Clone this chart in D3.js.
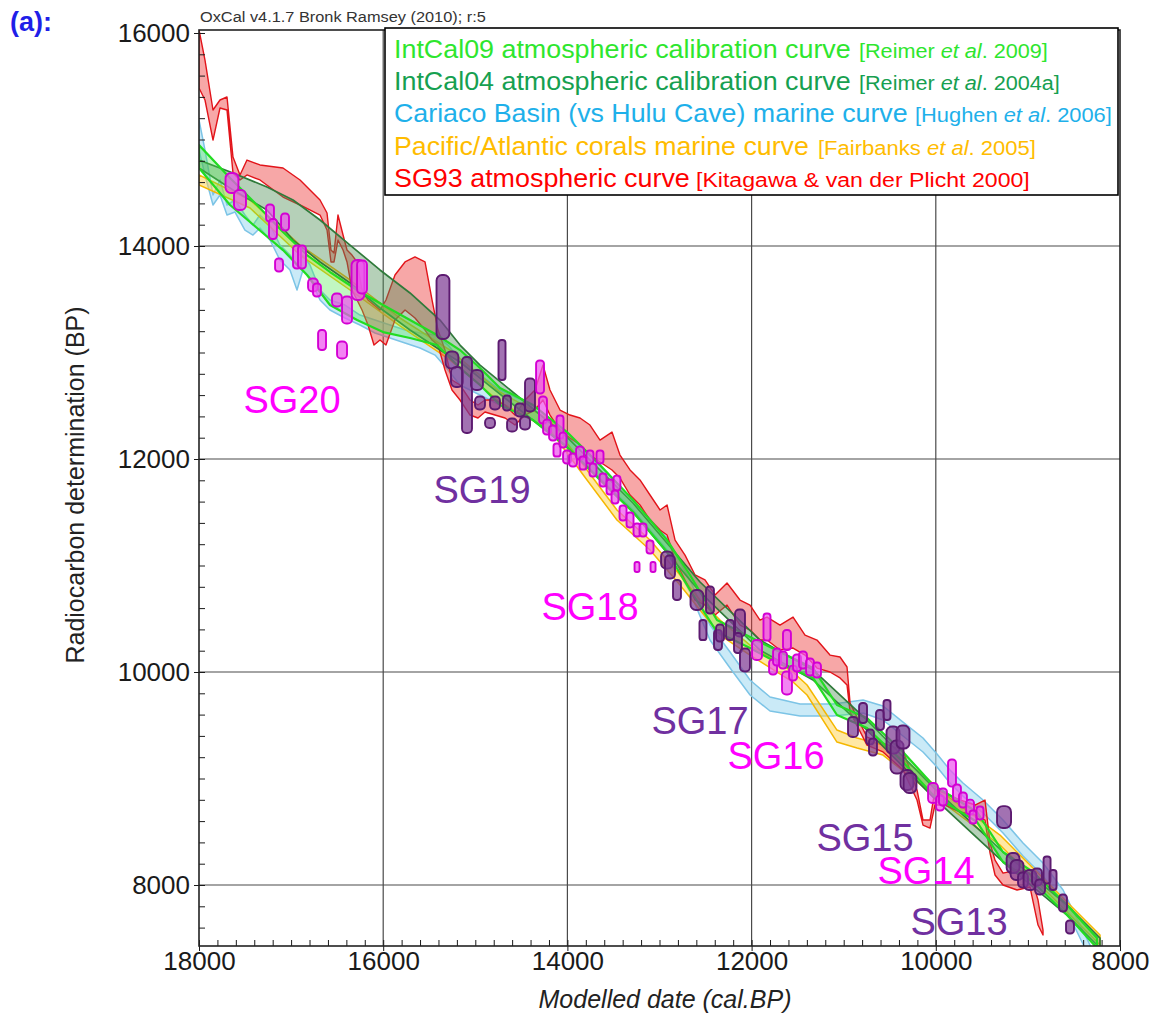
<!DOCTYPE html>
<html>
<head>
<meta charset="utf-8">
<script src="https://cdn.jsdelivr.net/npm/d3@7"></script>
<style>
  body { margin: 0; background: #fff; }
  svg text { font-family: "Liberation Sans", Arial, sans-serif; }
</style>
</head>
<body>
<svg id="chart" width="1159" height="1023"></svg>
<script>
// ---------------- calibration curves (cal BP, 14C BP upper / lower) ----------------
const sg93Dates = [18000,17935,17848,17772,17696,17631,17555,17479,17338,17088,16903,16686,16610,16567,16534,16491,16436,16393,16339,16284,16230,16165,16100,16035,15970,15872,15763,15655,15546,15470,15405,15329,15253,15166,15057,14971,14895,14786,14677,14569,14460,14352,14265,14189,14080,13972,13863,13755,13646,13516,13429,13320,13212,13103,12994,12918,12831,12723,12614,12506,12397,12267,12126,12017,11909,11833,11692,11550,11420,11290,11149,11040,10964,10931,10747,10573,10356,10204,10139,10063,10009,9900,9737,9574,9466,9411,9357,9270,9118,8977,8890,8836];
const sg93Upper = [16030,15746,15277,15371,15399,14836,14667,14807,14761,14732,14620,14432,14310,13962,13934,14291,14103,13962,13915,13850,13587,13493,13446,13399,13493,13728,13850,13897,13850,13493,13211,13023,12742,12695,12554,12507,12554,12554,12507,12413,12554,12648,12882,12648,12460,12413,12385,12319,12178,12253,12037,11897,11803,11662,11521,11568,11239,11098,10911,10864,10723,10836,10676,10629,10488,10516,10441,10516,10347,10300,10159,10141,10047,9709,9389,9333,9267,8892,8610,8610,8892,8864,8798,8751,8798,8394,8234,8112,8141,8112,7859,7577];
const sg93Lower = [15484,15371,14995,15296,15277,14685,14620,14667,14620,14460,14385,14291,14150,13850,13850,14056,13962,13850,13587,13493,13399,13258,13070,13117,13070,13305,13399,13324,13211,13117,13070,12836,12648,12554,12413,12385,12441,12413,12385,12319,12413,12460,12554,12413,12272,12197,12131,12037,11972,11897,11821,11662,11568,11427,11333,11286,11051,10864,10676,10629,10535,10629,10441,10394,10300,10300,10206,10225,10159,10037,10000,9944,9878,9624,9314,9249,9080,8798,8563,8535,8751,8751,8685,8657,8610,8300,8094,8000,7953,7981,7624,7530];

const intcal09Dates = [18000,17663,17370,17088,16827,16578,16284,16002,15709,15416,15166,14949,14732,14373,14004,13646,13288,12918,12669,12376,12017,11692,11333,11073,10747,10356,10030,9552,9270,8945,8575,8250];
const intcal09Upper = [14948,14638,14385,14131,13915,13756,13587,13446,13305,13164,13023,12854,12667,12507,12253,11944,11615,11239,10911,10488,10328,10188,10037,9690,9568,9249,8939,8685,8310,8122,7812,7502];
const intcal09Lower = [14732,14385,14169,13962,13728,13446,13305,13192,13136,13070,12854,12695,12507,12366,12113,11803,11502,11127,10770,10375,10225,10075,9944,9596,9474,9155,8845,8591,8216,8028,7718,7408];

const intcal04Dates = [18000,17631,17262,16979,16686,16360,16035,15709,15383,15166,14949,14515,14004,13288,12560,11909,11333,10747,10030,9270,8575,8217];
const intcal04Upper = [14807,14685,14554,14432,14244,14009,13775,13559,13305,13070,12882,12573,12206,11587,10845,10300,10019,9549,8920,8310,7812,7502];
const intcal04Lower = [14732,14526,14338,14056,13850,13653,13418,13211,13023,12911,12760,12460,12113,11502,10751,10206,9925,9455,8826,8216,7718,7408];

const cariacoDates = [18000,17935,17848,17772,17696,17609,17501,17414,17338,17229,17121,17012,16936,16871,16795,16686,16578,16415,16252,16089,15926,15763,15600,15437,15296,15166,14949,14732,14373,14004,13646,13288,12918,12669,12452,12234,12017,11800,11474,11116,10790,10573,10356,10139,9987,9846,9705,9487,9270,9053,8836,8618,8434,8325];
const cariacoUpper = [15183,14901,14479,14620,14385,14432,14291,14197,14291,14197,14009,13915,13822,13915,13822,13587,13493,13446,13352,13305,13258,13211,13183,13164,13070,12930,12789,12648,12507,12225,11934,11615,11258,10864,10441,10188,9925,9765,9699,9699,9737,9681,9530,9380,9230,9080,8958,8798,8610,8394,8206,7953,7624,7436];
const cariacoLower = [14901,14667,14385,14479,14291,14319,14150,14103,14169,14056,13868,13775,13587,13775,13700,13493,13399,13324,13258,13183,13136,13089,13042,12976,12836,12695,12601,12507,12366,12103,11821,11521,11145,10751,10300,10037,9784,9634,9587,9587,9615,9549,9399,9249,9108,8958,8835,8676,8488,8272,8084,7831,7502,7314];

const coralsDates = [18000,17446,16903,16360,15818,15275,14732,14189,13787,13462,13103,12777,12560,12343,12017,11550,11398,11073,10855,10573,10204,9846,9303,8760,8217];
const coralsUpper = [14667,14432,14009,13681,13324,13023,12629,12366,11897,11521,11239,10911,10676,10488,10253,10000,9878,9455,9380,9314,9080,8817,8469,8000,7530];
const coralsLower = [14573,14357,13915,13587,13249,12930,12535,12272,11803,11427,11145,10817,10582,10347,10159,9906,9784,9342,9286,9220,8967,8723,8375,7906,7436];

// ---------------- modelled dates: [cal BP, 14C BP, cal error, 14C error] ----------------
const sg20 = [[17642,14592,70,94],[17555,14432,65,94],[17229,14310,43,80],[17197,14160,43,94],[17066,14225,43,80],[17131,13822,43,61],[16936,13897,43,108],[16882,13897,43,108],[16762,13634,54,61],[16719,13587,43,61],[16664,13117,43,94],[16502,13493,54,61],[16447,13023,54,80],[16393,13399,54,127],[16274,13681,70,188],[16230,13709,54,155]];
const sg19 = [[15351,13427,70,300],[15253,12930,70,80],[15199,12770,65,94],[15090,12601,54,357],[14982,12742,65,94],[14949,12526,54,61],[14840,12338,54,47],[14786,12526,54,61],[14710,12930,38,188],[14656,12526,43,70],[14601,12319,54,61],[14515,12460,54,61],[14460,12338,54,61],[14406,12601,54,155]];
const sg18 = [[14297,12770,43,155],[14265,12460,43,127],[14221,12300,43,70],[14156,12244,43,70],[14113,12084,38,61],[14080,12300,38,108],[14048,12178,38,70],[14004,12019,43,61],[13939,11990,43,61],[13863,12056,43,61],[13831,11962,38,61],[13755,12019,38,61],[13722,11897,38,61],[13646,12019,38,61],[13613,11803,38,61],[13537,11737,38,70],[13462,11774,38,70],[13483,11643,38,61],[13396,11493,38,70],[13320,11427,38,70],[13244,11333,38,61],[13179,11333,38,61],[13103,11174,38,61],[13244,10986,27,47],[13070,10986,27,47]];
const sg17 = [[12918,11051,65,80],[12886,10986,54,108],[12810,10770,43,94],[12593,10676,70,94],[12452,10676,43,127],[12528,10394,38,94],[12365,10300,43,94],[12343,10366,43,80],[12234,10394,43,94],[12126,10460,54,127],[12148,10272,43,94],[12072,10113,54,108]];
const sg16 = [[11941,10206,54,94],[11833,10422,38,127],[11767,10047,43,70],[11724,10141,43,80],[11616,10300,43,94],[11659,10113,43,80],[11616,9897,54,108],[11550,9990,43,70],[11507,10084,43,80],[11442,10113,43,80],[11366,10047,43,80],[11290,10019,43,70]];
const sg15 = [[10899,9483,54,94],[10790,9615,43,94],[10714,9390,43,70],[10682,9296,43,80],[10606,9549,43,94],[10530,9643,38,94],[10465,9361,70,127],[10421,9202,70,155],[10356,9389,70,108],[10313,8986,70,94],[10280,8958,70,94],[9259,8638,76,103]];
const sg14 = [[10030,8864,54,94],[9954,8770,43,70],[9922,8826,43,80],[9824,9051,43,127],[9770,8864,43,80],[9705,8798,43,70],[9628,8732,43,70],[9596,8638,38,61],[9520,8676,38,61]];
const sg13 = [[9161,8206,70,94],[9118,8141,70,94],[9053,8047,54,70],[8977,8047,70,94],[8901,8075,54,80],[8868,7981,54,70],[8792,8141,38,127],[8727,8047,38,94],[8619,7831,43,80],[8543,7606,43,61]];

const groupNames = ["SG20","SG19","SG18","SG17","SG16","SG15","SG14","SG13"];
const groupLabelAt = [[16990,12554],[14927,11709],[13755,10610],[12560,9540],[11735,9211],[10769,8441],[10106,8131],[9748,7652]];

// ---------------- axes ----------------
const yMajorTicks = [8000,10000,12000,14000,16000];
const xMajorTicks = [18000,16000,14000,12000,10000,8000];

const legendMain = ["IntCal09 atmospheric calibration curve","IntCal04 atmospheric calibration curve","Cariaco Basin (vs Hulu Cave) marine curve","Pacific/Atlantic corals marine curve","SG93 atmospheric curve"];
const legendRefs = [["[Reimer ","et al",". 2009]"],["[Reimer ","et al",". 2004a]"],["[Hughen ","et al",". 2006]"],["[Fairbanks ","et al",". 2005]"],["[Kitagawa & van der Plicht 2000]","",""]];

// ---------------- drawing ----------------
const svg = d3.select("#chart");
const PL = 199, PR = 1120, PT = 30, PB = 946;
const x = d3.scaleLinear().domain([18000, 8000]).range([PL, PR]);
const y = d3.scaleLinear().domain([8000, 16000]).range([885, 33]);

svg.append("defs").append("clipPath").attr("id", "plotClip")
  .append("rect").attr("x", PL).attr("y", PT).attr("width", PR - PL).attr("height", PB - PT);

// grid
const grid = svg.append("g").attr("stroke", "#4a4a4a").attr("stroke-width", 1.2);
grid.selectAll("line.h").data([8000,10000,12000,14000]).join("line")
  .attr("x1", PL).attr("x2", PR).attr("y1", d => y(d)).attr("y2", d => y(d));
grid.selectAll("line.v").data([16000,14000,12000,10000]).join("line")
  .attr("y1", PT).attr("y2", PB).attr("x1", d => x(d)).attr("x2", d => x(d));

// curves
const curves = svg.append("g").attr("clip-path", "url(#plotClip)");
function band(dates, upper, lower, fill, fop, stroke, sw) {
  const rows = dates.map((d, i) => ({ d, u: upper[i], l: lower[i] }));
  const area = d3.area().x(r => x(r.d)).y0(r => y(r.l)).y1(r => y(r.u));
  curves.append("path").datum(rows).attr("d", area)
    .attr("fill", fill).attr("fill-opacity", fop)
    .attr("stroke", stroke).attr("stroke-width", sw).attr("stroke-linejoin", "round");
}
band(cariacoDates, cariacoUpper, cariacoLower, "#a6dcf2", 0.6, "#7cc4e6", 1.5);
band(coralsDates, coralsUpper, coralsLower, "#ffd24a", 0.5, "#f5b700", 1.5);
band(sg93Dates, sg93Upper, sg93Lower, "#ee3c3c", 0.45, "#e2141a", 1.4);
band(intcal04Dates, intcal04Upper, intcal04Lower, "#4f8f55", 0.42, "#2f7a3a", 1.7);
band(intcal09Dates, intcal09Upper, intcal09Lower, "#4ee84e", 0.35, "#22dc22", 2.2);

// modelled data boxes
const pts = svg.append("g").attr("clip-path", "url(#plotClip)");
const groups = [sg20, sg19, sg18, sg17, sg16, sg15, sg14, sg13];
const purple = { fill: "#7e3c94", stroke: "#5c1a70", text: "#7030a0" };
const magenta = { fill: "#ee55ee", stroke: "#d300d3", text: "#ff00ff" };
groups.forEach((rows, gi) => {
  const c = gi % 2 === 0 ? magenta : purple;
  pts.append("g").selectAll("rect").data(rows).join("rect")
    .attr("x", r => x(r[0] + r[2]))
    .attr("width", r => x(r[0] - r[2]) - x(r[0] + r[2]))
    .attr("y", r => y(r[1] + r[3]))
    .attr("height", r => y(r[1] - r[3]) - y(r[1] + r[3]))
    .attr("rx", r => Math.min(x(r[0] - r[2]) - x(r[0] + r[2]), y(r[1] - r[3]) - y(r[1] + r[3])) / 2.4)
    .attr("fill", c.fill).attr("fill-opacity", 0.72)
    .attr("stroke", c.stroke).attr("stroke-width", 1.9);
});

// group labels
svg.append("g").selectAll("text").data(groupNames).join("text")
  .attr("x", (d, i) => x(groupLabelAt[i][0]))
  .attr("y", (d, i) => y(groupLabelAt[i][1]))
  .attr("text-anchor", "middle").attr("dominant-baseline", "central")
  .attr("font-size", 38)
  .attr("fill", (d, i) => i % 2 === 0 ? magenta.text : purple.text)
  .text(d => d);

// axes: major + minor ticks
const axisColor = "#1a1a1a";
const yAxis = svg.append("g").attr("transform", `translate(${PL},0)`)
  .call(d3.axisLeft(y).tickValues(yMajorTicks).tickSize(5).tickPadding(4).tickFormat(d3.format("d")));
const yMinor = svg.append("g").attr("transform", `translate(${PL},0)`)
  .call(d3.axisLeft(y).tickValues(d3.range(7600, 16001, 200)).tickSize(-6).tickFormat(""));
const xAxis = svg.append("g").attr("transform", `translate(0,${PB})`)
  .call(d3.axisBottom(x).tickValues(xMajorTicks).tickSize(5).tickPadding(1).tickFormat(d3.format("d")));
const xMinor = svg.append("g").attr("transform", `translate(0,${PB})`)
  .call(d3.axisBottom(x).tickValues(d3.range(8000, 18001, 200)).tickSize(-6).tickFormat(""));
[yAxis, yMinor, xAxis, xMinor].forEach(g => {
  g.select(".domain").remove();
  g.selectAll("line").attr("stroke", axisColor).attr("stroke-width", 1);
  g.selectAll("text").attr("font-size", 26).attr("fill", "#1a1a1a")
    .attr("font-family", "'Liberation Sans', Arial, sans-serif");
});

// plot frame
svg.append("rect").attr("x", PL).attr("y", PT).attr("width", PR - PL).attr("height", PB - PT)
  .attr("fill", "none").attr("stroke", "#222").attr("stroke-width", 1.6);

// axis titles
svg.append("text").attr("transform", "translate(84,485) rotate(-90)")
  .attr("text-anchor", "middle").attr("font-size", 25).attr("fill", "#222")
  .text("Radiocarbon determination (BP)");
svg.append("text").attr("x", 665).attr("y", 1008)
  .attr("text-anchor", "middle").attr("font-size", 25).attr("font-style", "italic").attr("fill", "#222")
  .text("Modelled date (cal.BP)");

function fitWidth(sel, x0, x1) {
  const w = sel.node().getBBox().width;
  const s = (x1 - x0) / w;
  sel.attr("transform", `translate(${x0},0) scale(${s},1) translate(${-x0},0)`);
}

// header
const header = svg.append("text").attr("x", 200).attr("y", 22).attr("font-size", 15).attr("fill", "#333")
  .text("OxCal v4.1.7 Bronk Ramsey (2010); r:5");
fitWidth(header, 200, 486);
svg.append("text").attr("x", 10).attr("y", 31)
  .attr("font-family", "'Liberation Serif', 'Times New Roman', serif")
  .attr("font-weight", "bold").attr("font-size", 27).attr("fill", "#1f1fe8")
  .text("(a):");

// legend
const legend = svg.append("g");
legend.append("rect").attr("x", 385).attr("y", 28).attr("width", 733).attr("height", 167)
  .attr("fill", "#fff").attr("stroke", "#000").attr("stroke-width", 1.6);
const legendColors = ["#2ee62e", "#16a050", "#1eb0ea", "#ffbc00", "#ff0000"];
const legendBaselines = [58, 90, 122, 155, 187];
const mainSpan = [[394, 851], [394, 851], [394, 908], [394, 809], [394, 690]];
const refSpan = [[859, 1048], [859, 1060], [915, 1112], [818, 1036], [696, 1030]];

legendMain.forEach((label, i) => {
  const t = legend.append("text").attr("x", mainSpan[i][0]).attr("y", legendBaselines[i])
    .attr("font-size", 26).attr("fill", legendColors[i]).text(label);
  fitWidth(t, mainSpan[i][0], mainSpan[i][1]);
  const r = legend.append("text").attr("x", refSpan[i][0]).attr("y", legendBaselines[i])
    .attr("font-family", "'Liberation Sans Narrow', 'Arial Narrow', 'Liberation Sans', sans-serif")
    .attr("font-size", 21).attr("fill", legendColors[i]);
  const parts = legendRefs[i];
  r.append("tspan").text(parts[0]);
  if (parts[1]) r.append("tspan").attr("font-style", "italic").text(parts[1]);
  if (parts[2]) r.append("tspan").text(parts[2]);
  fitWidth(r, refSpan[i][0], refSpan[i][1]);
});
</script>
</body>
</html>
